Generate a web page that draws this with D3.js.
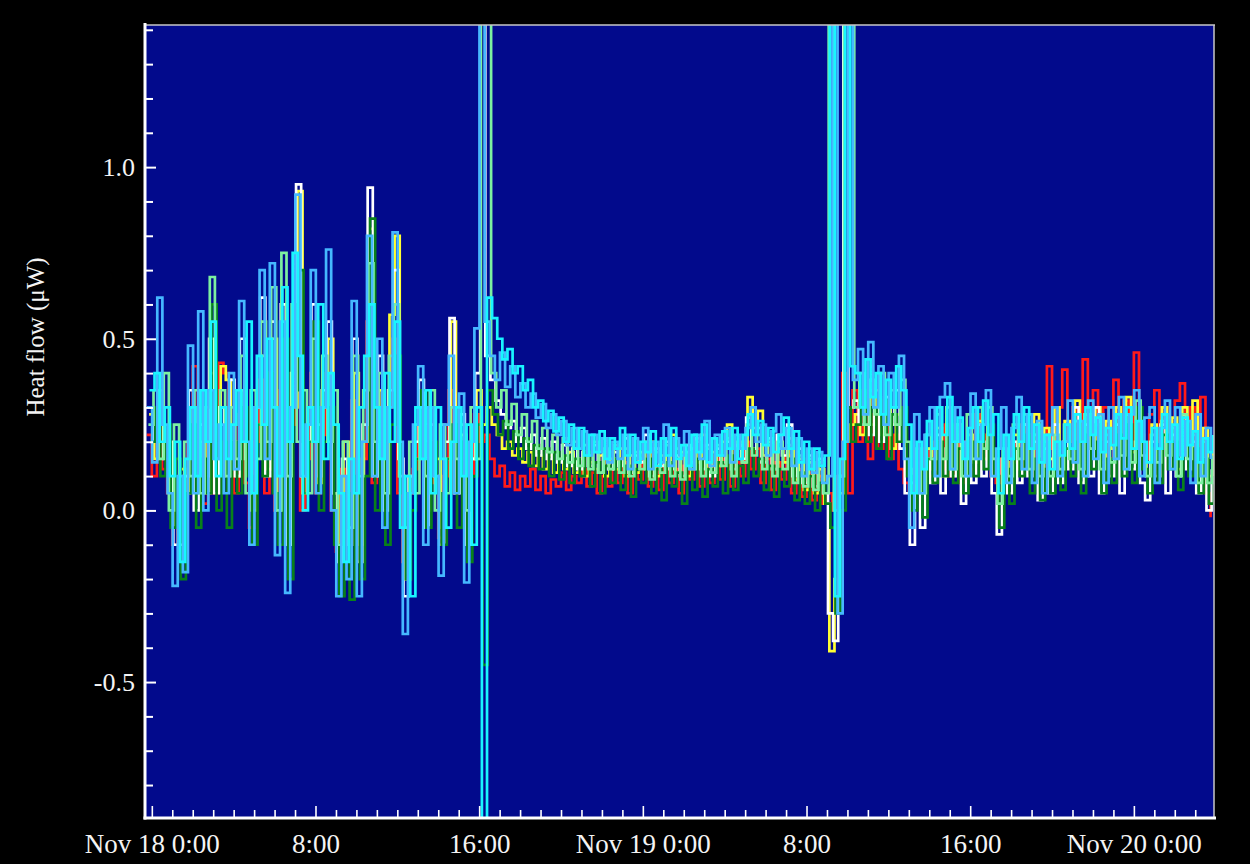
<!DOCTYPE html>
<html>
<head>
<meta charset="utf-8">
<script src="https://cdn.jsdelivr.net/npm/d3@7"></script>
<style>
  html, body { margin: 0; padding: 0; background: #000; }
  svg { display: block; }
</style>
</head>
<body>
<svg id="chart" width="1250" height="864"></svg>
<script>
// Heat flow readings, one value every 15 minutes per channel from Nov 17 23:45.
// The channels are scanned in turn, so each one carries its own small start delay.
// Segments per row group: 0:00–16:00 | first calibration pulse | relaxation |
// quiet period | second pulse | Nov 19 10:00 onwards.
const sampleStart = new Date(2013, 10, 17, 23, 45);
const sampleStepMinutes = 15;

const red = [
  0.22,0.10,0.25,0.12,0.05,-0.10,0.08,0.00,0.20,0.42, 0.10,0.02,0.30,0.05,0.43,0.40,0.15,0.05,0.28,0.08,
  -0.05,0.20,0.38,0.05,0.40,0.00,0.35,-0.05,0.25,0.60, 0.00,0.15,0.40,0.05,0.22,0.40,0.00,-0.12,0.12,-0.10,
  0.32,-0.10,0.15,0.55,0.08,0.28,0.00,0.30,0.50,0.05, -0.15,0.05,0.12,0.25,0.15,0.10,0.08,-0.08,0.10,0.35,
  0.05,0.18,-0.05,0.10,0.28,
  0.20,0.22,
  0.15,0.10,0.13,0.07,0.11,0.06,0.10,0.07,0.12,0.06, 0.10,0.05,0.09,0.07,0.11,0.06,0.10,0.08,0.12,0.07,
  0.11,0.05,0.10,0.07,
  0.12,0.08,0.14,0.05,0.11,0.09,0.15,0.07,0.13,0.06, 0.14,0.08,0.12,0.05,0.13,0.09,0.15,0.07,0.14,0.08,
  0.16,0.09,0.15,0.07,0.14,0.10,0.20,0.12,0.18,0.08, 0.15,0.06,0.14,0.09,0.16,0.05,0.12,0.04,0.11,0.03,
  0.10,0.02,
  0.05,0.00,0.10,0.40,0.05,
  0.35,0.20,0.30,0.15,0.28,0.18,0.25,0.15,0.22,0.12, 0.08,0.05,0.12,0.05,0.18,0.10,0.20,0.12,0.25,0.10,
  0.22,0.08,0.20,0.12,0.28,0.15,0.22,0.10,0.08,0.15, 0.10,0.20,0.14,0.25,0.12,0.22,0.10,0.20,0.42,0.18,
  0.30,0.41,0.20,0.30,0.15,0.44,0.22,0.35,0.18,0.30, 0.15,0.38,0.20,0.32,0.18,0.46,0.22,0.15,0.28,0.35,
  0.20,0.30,0.18,0.32,0.37,0.20,0.30,0.15,0.33,0.05, -0.02
];

const yellow = [
  0.28,0.15,0.30,0.20,0.10,-0.05,0.12,0.05,0.30,0.08, 0.20,0.05,0.40,0.10,0.42,0.38,0.20,0.10,0.35,0.12,
  0.00,0.25,0.45,0.12,0.50,0.05,0.45,0.00,0.30,0.93, 0.05,0.25,0.50,0.08,0.30,0.50,0.05,-0.10,0.20,-0.05,
  0.40,-0.10,0.20,0.82,0.15,0.35,0.05,0.57,0.80,0.10, -0.20,0.10,0.15,0.30,0.00,0.20,0.15,-0.05,0.15,0.55,
  0.10,0.22,-0.05,0.15,0.35,
  0.25,0.30,
  0.25,0.22,0.18,0.20,0.16,0.18,0.14,0.17,0.13,0.16, 0.12,0.16,0.11,0.15,0.12,0.17,0.11,0.15,0.10,0.14,
  0.12,0.16,0.10,0.15,
  0.12,0.18,0.10,0.16,0.11,0.17,0.12,0.20,0.10,0.16, 0.13,0.22,0.11,0.17,0.10,0.18,0.14,0.22,0.12,0.17,
  0.13,0.20,0.25,0.15,0.20,0.14,0.33,0.24,0.29,0.16, 0.20,0.12,0.18,0.14,0.21,0.09,0.15,0.06,0.14,0.05,
  0.12,0.02,
  -0.41,-0.20,0.05,0.20,0.25,
  0.28,0.22,0.33,0.25,0.35,0.22,0.30,0.18,0.28,0.22, 0.12,0.02,0.10,0.05,0.18,0.12,0.24,0.10,0.22,0.15,
  0.25,0.10,0.22,0.14,0.26,0.15,0.24,0.10,0.05,0.14, 0.08,0.22,0.12,0.25,0.15,0.28,0.10,0.24,0.15,0.30,
  0.12,0.26,0.18,0.32,0.15,0.28,0.20,0.30,0.14,0.26, 0.18,0.30,0.15,0.33,0.17,0.28,0.15,0.10,0.25,0.16,
  0.30,0.18,0.27,0.12,0.30,0.18,0.32,0.12,0.24,0.10, 0.20
];

const white = [
  0.30,0.20,0.35,0.15,0.20,-0.10,0.05,0.10,0.35,0.00, 0.25,0.10,0.50,0.05,0.30,0.10,0.38,0.10,0.50,0.15,
  0.05,0.30,0.62,0.10,0.55,0.00,0.60,-0.10,0.40,0.95, 0.10,0.20,0.60,0.10,0.35,0.55,0.05,-0.15,0.15,-0.10,
  0.50,-0.15,0.25,0.94,0.10,0.45,0.00,0.35,0.70,0.15, -0.25,0.10,0.20,0.38,-0.05,0.25,0.10,-0.10,0.20,0.56,
  0.05,0.28,-0.10,0.15,0.40,
  1.60,0.45,
  0.38,0.32,0.28,0.24,0.26,0.20,0.24,0.18,0.22,0.16, 0.21,0.15,0.20,0.14,0.19,0.13,0.18,0.12,0.17,0.13,
  0.19,0.11,0.17,0.12,
  0.17,0.13,0.21,0.11,0.16,0.14,0.22,0.10,0.18,0.13, 0.20,0.12,0.16,0.10,0.19,0.14,0.21,0.12,0.19,0.10,
  0.18,0.14,0.20,0.12,0.19,0.15,0.27,0.18,0.24,0.14, 0.21,0.12,0.22,0.16,0.25,0.10,0.18,0.08,0.16,0.07,
  0.15,0.05,
  -0.30,-0.38,0.10,1.60,0.30,
  0.32,0.25,0.35,0.22,0.30,0.20,0.33,0.25,0.35,0.18, 0.05,-0.10,0.05,-0.05,0.15,0.08,0.22,0.05,0.18,0.10,
  0.20,0.02,0.15,0.08,0.25,0.10,0.20,0.05,-0.07,0.15, 0.05,0.20,0.08,0.25,0.10,0.20,0.03,0.18,0.05,0.25,
  0.08,0.20,0.12,0.30,0.08,0.25,0.10,0.30,0.05,0.20, 0.10,0.25,0.05,0.28,0.12,0.20,0.08,0.03,0.20,0.10,
  0.25,0.05,0.22,0.10,0.28,0.12,0.20,0.05,0.15,0.00, 0.12
];

const green = [
  0.20,0.30,0.10,0.25,-0.05,0.15,-0.20,0.05,0.25,-0.05, 0.15,0.05,0.60,0.00,0.20,-0.05,0.20,0.05,0.30,0.10,
  -0.10,0.25,0.10,0.40,0.05,-0.10,0.50,-0.20,0.35,0.70, 0.05,0.20,0.55,0.00,0.20,0.30,-0.10,-0.25,0.05,-0.26,
  0.10,-0.20,0.10,0.85,0.00,0.30,-0.10,0.25,0.45,0.05, -0.20,0.00,0.15,0.35,-0.05,0.20,0.05,-0.10,0.15,0.25,
  -0.05,0.20,-0.15,0.10,0.25,
  -0.45,0.35,
  0.28,0.22,0.26,0.18,0.23,0.15,0.21,0.13,0.19,0.12, 0.18,0.10,0.17,0.09,0.16,0.08,0.15,0.10,0.17,0.07,
  0.14,0.05,0.13,0.08,
  0.15,0.06,0.13,0.04,0.12,0.08,0.15,0.05,0.12,0.03, 0.14,0.07,0.11,0.02,0.13,0.06,0.15,0.04,0.12,0.07,
  0.14,0.05,0.16,0.06,0.13,0.08,0.18,0.10,0.15,0.06, 0.13,0.04,0.12,0.07,0.15,0.03,0.11,0.02,0.10,0.00,
  0.08,0.02,
  -0.05,-0.30,0.00,0.30,0.20,
  0.25,0.35,0.20,0.30,0.18,0.32,0.15,0.28,0.20,0.30, 0.10,0.00,0.12,-0.02,0.15,0.08,0.20,0.10,0.25,0.08,
  0.18,0.05,0.20,0.10,0.22,0.12,0.25,0.10,-0.05,0.12, 0.02,0.18,0.10,0.22,0.05,0.15,0.03,0.12,0.05,0.15,
  0.06,0.18,0.10,0.20,0.05,0.22,0.12,0.20,0.05,0.15, 0.08,0.22,0.10,0.25,0.08,0.30,0.12,0.05,0.18,0.08,
  0.22,0.12,0.20,0.06,0.25,0.10,0.18,0.05,0.15,0.02, 0.10
];

const paleGreen = [
  0.25,0.35,0.15,0.40,0.00,0.25,-0.10,0.20,0.10,0.35, 0.05,0.30,0.68,0.15,0.35,0.10,0.30,0.15,0.45,0.05,
  0.35,0.15,0.55,0.20,0.65,0.00,0.75,0.10,0.60,0.20, 0.35,0.05,0.50,0.25,0.45,0.20,0.35,-0.10,0.20,-0.05,
  0.45,0.10,0.35,0.72,0.20,0.40,0.05,0.45,0.60,0.10, -0.05,0.20,0.05,0.30,0.10,0.35,0.00,0.25,0.05,0.30,
  0.15,0.25,0.00,0.30,0.15,
  1.60,1.60,
  0.40,0.30,0.35,0.25,0.31,0.22,0.28,0.20,0.26,0.18, 0.24,0.17,0.22,0.15,0.21,0.14,0.20,0.13,0.19,0.12,
  0.20,0.11,0.18,0.12,
  0.19,0.11,0.18,0.10,0.17,0.12,0.20,0.09,0.17,0.11, 0.19,0.10,0.18,0.09,0.17,0.12,0.20,0.10,0.18,0.11,
  0.19,0.13,0.21,0.10,0.18,0.14,0.25,0.16,0.22,0.12, 0.19,0.10,0.20,0.12,0.19,0.08,0.16,0.07,0.15,0.06,
  0.14,0.05,
  1.60,0.00,0.10,1.60,1.60,
  0.30,0.40,0.25,0.38,0.28,0.40,0.22,0.35,0.25,0.38, 0.20,0.08,0.18,0.05,0.22,0.15,0.28,0.15,0.30,0.12,
  0.25,0.10,0.28,0.15,0.30,0.18,0.30,0.15,0.02,0.18, 0.10,0.25,0.15,0.28,0.12,0.22,0.10,0.20,0.10,0.22,
  0.12,0.25,0.15,0.26,0.12,0.28,0.18,0.25,0.12,0.22, 0.14,0.27,0.16,0.28,0.14,0.32,0.16,0.10,0.22,0.14,
  0.26,0.16,0.24,0.10,0.28,0.15,0.22,0.08,0.20,0.08, 0.16
];

const skyBlue = [
  0.30,0.14,0.62,0.25,0.05,-0.22,0.10,-0.18,0.48,0.05, 0.58,0.00,0.35,0.15,0.25,0.05,0.40,0.12,0.61,0.20,
  -0.10,0.30,0.70,0.15,0.72,-0.13,0.55,-0.24,0.30,0.92, 0.10,0.25,0.70,0.05,0.30,0.76,0.00,-0.25,0.10,-0.20,
  0.61,-0.25,0.20,0.80,0.10,0.50,-0.05,0.30,0.81,0.20, -0.36,0.05,0.25,0.42,-0.10,0.30,0.10,-0.19,0.25,0.45,
  0.05,0.34,-0.21,0.20,0.53,
  1.60,0.55,
  0.45,0.38,0.46,0.36,0.42,0.33,0.37,0.30,0.34,0.27, 0.31,0.24,0.28,0.22,0.26,0.19,0.24,0.18,0.23,0.16,
  0.22,0.17,0.21,0.14,
  0.20,0.15,0.22,0.12,0.21,0.15,0.24,0.12,0.20,0.14, 0.25,0.13,0.21,0.16,0.23,0.12,0.22,0.15,0.26,0.13,
  0.22,0.16,0.24,0.14,0.22,0.18,0.24,0.30,0.20,0.25, 0.16,0.23,0.28,0.18,0.24,0.13,0.21,0.10,0.18,0.11,
  0.17,0.08,
  0.10,1.60,-0.30,0.20,1.60,
  0.38,0.47,0.28,0.49,0.30,0.42,0.25,0.40,0.30,0.45, 0.15,-0.05,0.28,0.05,0.22,0.30,0.10,0.33,0.37,0.12,
  0.30,0.20,0.10,0.34,0.15,0.25,0.35,0.10,0.18,0.30, 0.08,0.24,0.33,0.12,0.28,0.08,0.26,0.05,0.22,0.30,
  0.10,0.20,0.32,0.14,0.26,0.10,0.32,0.15,0.28,0.08, 0.30,0.15,0.33,0.12,0.28,0.35,0.10,0.27,0.30,0.08,
  0.24,0.32,0.12,0.30,0.16,0.26,0.08,0.28,0.10,0.24, 0.15
];

const cyan = [
  0.35,0.40,0.20,0.30,0.10,0.20,-0.15,0.15,0.30,0.10, 0.35,0.20,0.55,0.10,0.30,0.15,0.25,0.35,0.20,0.55,
  0.05,0.45,0.25,0.50,0.30,0.10,0.65,0.20,0.75,0.45, 0.00,0.30,0.20,0.60,0.15,0.40,0.25,0.05,-0.15,0.15,
  0.05,0.30,0.45,0.60,0.30,0.15,0.40,0.20,0.55,-0.05, 0.10,-0.25,0.30,0.15,0.35,0.05,0.30,0.15,-0.05,0.20,
  0.30,0.10,0.25,-0.10,0.30,
  -0.92,0.62,
  0.56,0.50,0.44,0.47,0.40,0.42,0.35,0.38,0.30,0.32, 0.26,0.29,0.23,0.27,0.20,0.25,0.18,0.24,0.16,0.22,
  0.17,0.23,0.15,0.21,
  0.18,0.24,0.16,0.22,0.14,0.20,0.17,0.23,0.13,0.21, 0.16,0.24,0.15,0.19,0.13,0.22,0.17,0.25,0.14,0.21,
  0.16,0.23,0.18,0.24,0.15,0.22,0.28,0.22,0.26,0.19, 0.24,0.17,0.22,0.27,0.18,0.23,0.14,0.20,0.12,0.18,
  0.13,0.16,
  1.60,-0.25,0.15,1.60,0.42,
  0.40,0.30,0.44,0.33,0.40,0.28,0.38,0.30,0.42,0.35, 0.25,0.05,0.20,0.12,0.26,0.18,0.30,0.22,0.33,0.20,
  0.27,0.15,0.24,0.30,0.20,0.32,0.22,0.28,0.05,0.22, 0.15,0.28,0.20,0.30,0.18,0.25,0.14,0.22,0.12,0.20,
  0.16,0.25,0.18,0.28,0.20,0.30,0.22,0.27,0.17,0.24, 0.19,0.28,0.21,0.30,0.18,0.26,0.20,0.14,0.24,0.18,
  0.28,0.20,0.25,0.15,0.27,0.19,0.23,0.14,0.21,0.17, 0.22
];

// Drawing order: first entry is painted first (bottom).
const seriesNames   = ["red", "yellow", "white", "green", "paleGreen", "skyBlue", "cyan"];
const seriesValues  = [red, yellow, white, green, paleGreen, skyBlue, cyan];
const seriesDelayMin = [0, 7, 3, 10, 5, 1, 8];
const seriesColors  = ["#ff1a1a", "#ffff33", "#ffffff", "#08801a", "#7cf0a0", "#45b8ff", "#19f5ff"];

const yTickLabels = ["-0.5", "0.0", "0.5", "1.0"];
const yTickLabelValues = [-0.5, 0.0, 0.5, 1.0];
const xTickLabels = ["Nov 18 0:00", "8:00", "16:00", "Nov 19 0:00", "8:00", "16:00", "Nov 20 0:00"];
const yAxisTitle = "Heat flow (\u03bcW)";

// ---- layout ----
const plot = { left: 145, right: 1214, top: 25, bottom: 818 };
const svg = d3.select("#chart");

const x = d3.scaleTime()
  .domain([new Date(2013, 10, 17, 23, 40), new Date(2013, 10, 20, 3, 55)])
  .range([plot.left, plot.right]);
const y = d3.scaleLinear()
  .domain([-0.896, 1.414])
  .range([plot.bottom, plot.top]);

const sampleTime = (i, delay) =>
  new Date(sampleStart.getTime() + (i * sampleStepMinutes + delay) * 60000);

svg.append("rect")
  .attr("x", 0).attr("y", 0).attr("width", 1250).attr("height", 864)
  .attr("fill", "#000");

svg.append("rect")
  .attr("x", plot.left).attr("y", plot.top)
  .attr("width", plot.right - plot.left).attr("height", plot.bottom - plot.top)
  .attr("fill", "#020a8c");

svg.append("defs").append("clipPath").attr("id", "plot-clip")
  .append("rect")
  .attr("x", plot.left + 1).attr("y", plot.top)
  .attr("width", plot.right - plot.left - 1).attr("height", plot.bottom - plot.top);

// ---- traces ----
const traces = svg.append("g").attr("clip-path", "url(#plot-clip)");
seriesValues.forEach((vals, k) => {
  const line = d3.line()
    .x((d, i) => x(sampleTime(i, seriesDelayMin[k])))
    .y(d => y(d))
    .curve(d3.curveStepAfter);
  traces.append("path")
    .attr("class", "trace " + seriesNames[k])
    .attr("d", line(vals))
    .attr("fill", "none")
    .attr("stroke", seriesColors[k])
    .attr("stroke-width", 2.7)
    .attr("stroke-linejoin", "miter");
});

// ---- frame ----
svg.append("line")
  .attr("x1", plot.left).attr("x2", plot.right + 1)
  .attr("y1", plot.top).attr("y2", plot.top)
  .attr("stroke", "#c8c8c8").attr("stroke-width", 1.5);
svg.append("line")
  .attr("x1", plot.right).attr("x2", plot.right)
  .attr("y1", plot.top).attr("y2", plot.bottom)
  .attr("stroke", "#c8c8c8").attr("stroke-width", 1.5);

// ---- y axis ----
const yTicks = d3.range(-8, 15).map(k => k / 10);
const yLabelFor = v => {
  const idx = yTickLabelValues.findIndex(t => Math.abs(t - v) < 1e-9);
  return idx >= 0 ? yTickLabels[idx] : "";
};
const yAxis = d3.axisLeft(y)
  .tickValues(yTicks)
  .tickSize(-8)
  .tickSizeOuter(0)
  .tickPadding(10)
  .tickFormat(yLabelFor);
const gy = svg.append("g")
  .attr("transform", `translate(${plot.left},0)`)
  .call(yAxis);
gy.select(".domain").remove();
gy.selectAll(".tick line")
  .attr("stroke", "#ffffff").attr("stroke-width", 2)
  .attr("x2", d => yLabelFor(d) ? 11 : 8);
gy.selectAll(".tick text")
  .attr("fill", "#f4f4f4")
  .attr("font-family", "'Liberation Serif', 'Times New Roman', serif")
  .attr("font-size", 26);

// ---- x axis ----
const hourTicks = d3.timeHour.every(1).range(new Date(2013, 10, 18, 0, 0), x.domain()[1]);
const xLabelFor = d => {
  const h = d.getHours();
  if (h % 8 !== 0) return "";
  const idx = Math.round((d - new Date(2013, 10, 18, 0, 0)) / (8 * 3600000));
  return xTickLabels[idx] || "";
};
const xAxis = d3.axisBottom(x)
  .tickValues(hourTicks)
  .tickSize(-8)
  .tickSizeOuter(0)
  .tickPadding(16)
  .tickFormat(xLabelFor);
const gx = svg.append("g")
  .attr("transform", `translate(0,${plot.bottom})`)
  .call(xAxis);
gx.select(".domain").remove();
gx.selectAll(".tick line")
  .attr("stroke", "#ffffff").attr("stroke-width", 1.6)
  .attr("y2", d => d.getHours() % 8 === 0 ? -12 : -8);
gx.selectAll(".tick text")
  .attr("fill", "#f4f4f4")
  .attr("font-family", "'Liberation Serif', 'Times New Roman', serif")
  .attr("font-size", 27);

// main axis lines
svg.append("line")
  .attr("x1", plot.left).attr("x2", plot.left)
  .attr("y1", plot.top - 2).attr("y2", plot.bottom + 1.5)
  .attr("stroke", "#ffffff").attr("stroke-width", 3);
svg.append("line")
  .attr("x1", plot.left - 1.5).attr("x2", plot.right + 2)
  .attr("y1", plot.bottom).attr("y2", plot.bottom)
  .attr("stroke", "#ffffff").attr("stroke-width", 3);

// ---- axis title ----
svg.append("text")
  .attr("transform", `translate(44,337) rotate(-90)`)
  .attr("text-anchor", "middle")
  .attr("fill", "#f4f4f4")
  .attr("font-family", "'Liberation Serif', 'Times New Roman', serif")
  .attr("font-size", 25)
  .text(yAxisTitle);
</script>
</body>
</html>
